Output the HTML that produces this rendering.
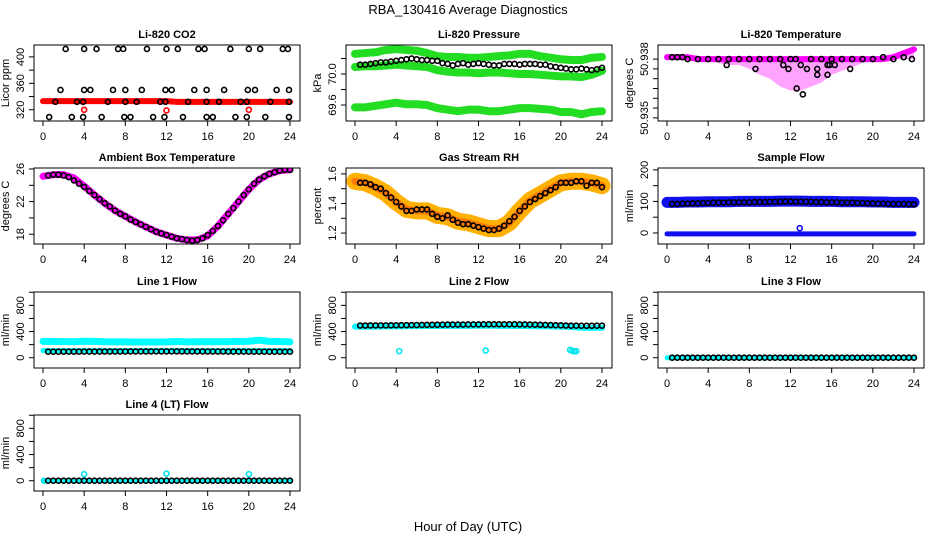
<!DOCTYPE html>
<html><head><meta charset="utf-8">
<style>
html,body{margin:0;padding:0;background:#fff;}
svg{display:block;font-family:"Liberation Sans",sans-serif;}
</style></head>
<body>
<svg id="chart" width="936" height="540" viewBox="0 0 936 540" xmlns="http://www.w3.org/2000/svg">
<text x="468" y="14" font-size="13" text-anchor="middle">RBA_130416  Average Diagnostics</text>
<text x="468" y="531" font-size="13" text-anchor="middle">Hour of Day (UTC)</text>
</svg>
<script>
// ---- shared categories ----
const xTicks = [0,4,8,12,16,20,24];
const bandHours = [0,1,2,3,4,5,6,7,8,9,10,11,12,13,14,15,16,17,18,19,20,21,22,23,24];
const pointHours = [0.5,1,1.5,2,2.5,3,3.5,4,4.5,5,5.5,6,6.5,7,7.5,8,8.5,9,9.5,10,10.5,11,11.5,12,12.5,13,13.5,14,14.5,15,15.5,16,16.5,17,17.5,18,18.5,19,19.5,20,20.5,21,21.5,22,22.5,23,23.5,24];

// ---- CO2 ----
const co2Band = [333,333,333,333,333,333,333,333,333,333,333,333,333,332,332,332,332,332,332,332,332,332,332,332,332];
const co2Hours = [2.2,4,5.2,7.3,7.8,10.1,12,13.1,15.1,15.7,18.2,20,21.1,23.3,23.8, 1.7,4,4.6,6.8,8,9.6,11.9,12.5,14.7,15.9,17.6,19.9,20.6,22.7,23.9, 1.2,3.3,3.9,6.3,8,9.1,11.4,11.9,14.1,15.9,17.1,19.2,19.8,22.1,23.9, 0.6,2.8,3.9,5.7,7.9,8.5,10.7,11.8,13.6,15.9,16.5,18.7,19.8,21.6,23.9];
const co2Values = [412,412,412,412,412,412,412,412,412,412,412,412,412,412,412, 350,350,350,350,350,350,350,350,350,350,350,350,350,350,350, 332,332,332,332,332,332,332,332,332,332,332,332,332,332,332, 309,309,309,309,309,309,309,309,309,309,309,309,309,309,309];
const co2OutHours = [4,12,20];
const co2OutValues = [320,319,320];

// ---- Pressure ----
const presUpper = [70.26,70.27,70.28,70.31,70.32,70.31,70.30,70.27,70.23,70.22,70.22,70.21,70.21,70.22,70.23,70.24,70.26,70.26,70.23,70.21,70.19,70.18,70.18,70.21,70.22];
const presMiddle = [70.09,70.10,70.10,70.11,70.12,70.11,70.10,70.09,70.05,70.03,70.02,70.02,70.01,70.02,70.02,70.01,70.00,70.00,69.99,69.98,69.97,69.97,69.96,69.99,70.04];
const presLower = [69.57,69.57,69.59,69.61,69.63,69.61,69.61,69.60,69.56,69.54,69.52,69.54,69.54,69.52,69.52,69.54,69.56,69.56,69.55,69.54,69.51,69.51,69.48,69.51,69.52];
const presPoints = [70.12,70.12,70.13,70.14,70.15,70.15,70.16,70.17,70.18,70.19,70.20,70.19,70.18,70.18,70.17,70.17,70.14,70.13,70.11,70.13,70.14,70.12,70.13,70.14,70.13,70.12,70.11,70.11,70.13,70.13,70.13,70.12,70.13,70.13,70.13,70.12,70.12,70.10,70.09,70.08,70.07,70.06,70.06,70.07,70.06,70.05,70.06,70.08];

// ---- Li-820 temperature ----
const tempUpper = [50.9381,50.9381,50.9381,50.9380,50.9380,50.9380,50.9380,50.9380,50.9380,50.9380,50.9380,50.9380,50.9380,50.9380,50.9380,50.9380,50.9380,50.9380,50.9380,50.9380,50.9380,50.9380,50.9381,50.9383,50.9385];
const tempLower = [50.9380,50.9380,50.9380,50.9379,50.9379,50.9378,50.9377,50.9377,50.9375,50.9372,50.9370,50.9366,50.9364,50.9364,50.9366,50.9368,50.9372,50.9374,50.9376,50.9378,50.9379,50.9380,50.9380,50.9380,50.9380];
const tempHours = [0.5,1,1.5,2,3,4,5,6,7,8,9,10,11,11.3,12,12.5,13,14,14.6,15,15.6,16,17,18,19,20,21,22,23,23.8,5.8,8.6,11.8,13.6,15.8,16.3,17.8,12.6,13.2,14.6,15.6];
const tempValues = [50.9381,50.9381,50.9381,50.9380,50.9380,50.9380,50.9380,50.9380,50.9380,50.9380,50.9380,50.9380,50.9380,50.9377,50.9380,50.9380,50.9377,50.9380,50.9375,50.9380,50.9377,50.9380,50.9380,50.9380,50.9380,50.9380,50.9381,50.9380,50.9381,50.9380,50.9377,50.9375,50.9375,50.9375,50.9377,50.9377,50.9375,50.9365,50.9362,50.9372,50.9372];

// ---- Ambient box temperature ----
const ambBand = [25.1,25.3,25.3,24.9,23.9,22.8,21.8,20.9,20.2,19.5,18.9,18.3,17.9,17.5,17.3,17.3,17.8,19.0,20.5,22.0,23.5,24.7,25.4,25.8,25.9];
const ambPoints = [25.2,25.3,25.3,25.2,25.0,24.6,24.2,23.8,23.3,22.8,22.3,21.8,21.4,20.9,20.5,20.2,19.8,19.5,19.2,18.9,18.6,18.3,18.1,17.9,17.7,17.5,17.4,17.3,17.2,17.3,17.5,17.9,18.4,19.0,19.7,20.5,21.2,22.0,22.8,23.5,24.2,24.7,25.1,25.4,25.6,25.8,25.9,25.9];

// ---- Gas stream RH ----
const rhBand = [1.55,1.54,1.51,1.47,1.41,1.36,1.35,1.35,1.32,1.31,1.28,1.27,1.25,1.23,1.23,1.27,1.35,1.42,1.46,1.50,1.54,1.55,1.55,1.54,1.52];
const rhPoints = [1.54,1.54,1.53,1.51,1.50,1.47,1.44,1.41,1.38,1.35,1.35,1.36,1.36,1.36,1.33,1.31,1.30,1.32,1.29,1.27,1.26,1.26,1.25,1.24,1.23,1.22,1.22,1.23,1.25,1.28,1.31,1.35,1.38,1.41,1.43,1.45,1.47,1.49,1.51,1.54,1.54,1.54,1.55,1.55,1.52,1.54,1.54,1.51];

// ---- Sample flow ----
const sampleBand = [97,97,98,98,99,99,99,100,100,100,100,101,101,101,100,100,100,99,99,99,98,98,97,97,97];
const sampleLow = [-3,-3,-3,-3,-3,-3,-3,-3,-3,-3,-3,-3,-3,-3,-3,-3,-3,-3,-3,-3,-3,-3,-3,-3,-3];
const samplePoints = [92,92,93,93,94,94,95,95,96,96,96,97,97,97,97,97,98,98,98,99,99,99,100,100,99,99,99,99,98,98,97,97,97,96,96,96,95,95,94,94,93,93,92,92,92,92,91,91];

// ---- Line flows ----
const line1Band = [250,248,245,244,252,250,244,242,242,240,240,240,242,248,242,244,244,244,245,248,252,268,250,245,242];
const line1Low = [108,108,108,108,108,108,108,108,108,108,108,108,108,108,108,108,108,108,108,108,108,108,108,108,108];
const line1Points = [92,92,92,93,93,93,93,94,94,94,94,95,95,95,95,95,96,96,96,96,96,97,97,97,97,97,97,96,96,96,96,95,95,95,95,94,94,94,94,93,93,93,93,92,92,92,92,92];
const line2Band = [475,475,476,478,478,480,482,484,485,486,486,487,488,488,487,486,485,482,480,478,476,470,458,455,458];
const line2Points = [492,492,493,493,494,494,495,496,497,498,499,500,501,502,503,504,505,506,506,507,507,508,508,509,510,510,511,511,511,510,510,509,508,507,505,503,501,499,497,495,492,490,489,488,488,488,489,490];
const line2OutHours = [4.3,12.7,20.9,21.1,21.3,21.5];
const line2OutValues = [100,110,120,105,100,100];
const line3Band = [0,0,0,0,0,0,0,0,0,0,0,0,0,0,0,0,0,0,0,0,0,0,0,0,0];
const line3Points = [0,0,0,0,0,0,0,0,0,0,0,0,0,0,0,0,0,0,0,0,0,0,0,0,0,0,0,0,0,0,0,0,0,0,0,0,0,0,0,0,0,0,0,0,0,0,0,0];
const line4Points = [0,0,0,0,0,0,0,0,0,0,0,0,0,0,0,0,0,0,0,0,0,0,0,0,0,0,0,0,0,0,0,0,0,0,0,0,0,0,0,0,0,0,0,0,0,0,0,0];
const line4OutHours = [0.1,4,12,20];
const line4OutValues = [0,100,110,100];

const NS = "http://www.w3.org/2000/svg";
const svg = document.getElementById('chart');
function mk(tag, attrs, parent){
  const e = document.createElementNS(NS, tag);
  for (const k in attrs) e.setAttribute(k, attrs[k]);
  (parent||svg).appendChild(e);
  return e;
}
const colX = [34, 346, 658];
const rowY = [45, 168, 292, 415];
const PW = 266, PH = 76;

function makePanel(col, row, cfg){
  const bx = colX[col], by = rowY[row];
  const g = mk('g', {});
  
  
  const xs = h => bx + 9 + h / 24 * 247;
  const ys = v => by + PH - (v - cfg.ymin) / (cfg.ymax - cfg.ymin) * PH;
  const clip = 'clip-' + cfg.name;
  const cp = mk('clipPath', {id: clip}, g);
  mk('rect', {x: bx, y: by, width: PW, height: PH}, cp);
  const data = mk('g', {'clip-path': 'url(#' + clip + ')'}, g);
  
  
  cfg.draw(data, xs, ys);
  const box = mk('rect', {x: bx, y: by, width: PW, height: PH, fill: 'none', stroke: '#000', 'stroke-width': 1}, g);
  
  
  const xa = mk('g', {}, g);
  
  
  mk('line', {x1: xs(0), x2: xs(24), y1: by + PH, y2: by + PH, stroke: '#000'}, xa);
  xTicks.forEach(t => {
    mk('line', {x1: xs(t), x2: xs(t), y1: by + PH, y2: by + PH + 5, stroke: '#000'}, xa);
    const tx = mk('text', {x: xs(t), y: by + PH + 19, 'font-size': 11, 'text-anchor': 'middle'}, xa);
    tx.textContent = t;
  });
  const ya = mk('g', {}, g);
  
  
  const t0 = cfg.yTicks[0], t1 = cfg.yTicks[cfg.yTicks.length - 1];
  mk('line', {x1: bx, x2: bx, y1: ys(t0), y2: ys(t1), stroke: '#000'}, ya);
  cfg.yTicks.forEach(t => mk('line', {x1: bx - 5, x2: bx, y1: ys(t), y2: ys(t), stroke: '#000'}, ya));
  cfg.yLabels.forEach(t => {
    const lx = bx - 10, ly = ys(parseFloat(t));
    const tx = mk('text', {x: lx, y: ly, 'font-size': 11, 'text-anchor': 'middle', transform: 'rotate(-90 ' + lx + ' ' + ly + ')'}, ya);
    tx.textContent = t;
  });
  const yl = bx - 25, yc = by + PH / 2;
  const yt = mk('text', {x: yl, y: yc, 'font-size': 11, 'text-anchor': 'middle', transform: 'rotate(-90 ' + yl + ' ' + yc + ')'}, g);
  
  
  yt.textContent = cfg.ylab;
  const tt = mk('text', {x: bx + PW / 2, y: by - 7, 'font-size': 11, 'font-weight': 'bold', 'text-anchor': 'middle'}, g);
  
  
  tt.textContent = cfg.title;
}

function band(parent, xs, ys, hours, vals, color, width){
  const pts = hours.map((h, i) => xs(h) + ',' + ys(vals[i])).join(' ');
  const p = mk('polyline', {points: pts, fill: 'none', stroke: color, 'stroke-width': width, 'stroke-linecap': 'round', 'stroke-linejoin': 'round'}, parent);
  
  
  return p;
}
function pts(parent, xs, ys, hours, vals, color, r){
  const n = Math.min(hours.length, vals.length);
  for (let i = 0; i < n; i++){
    const c = mk('circle', {cx: xs(hours[i]), cy: ys(vals[i]), r: r || 2.5, fill: 'none', stroke: color, 'stroke-width': 1.6}, parent);
    
    
  }
}

makePanel(0, 0, {name: 'co2-panel', title: 'Li-820 CO2', ylab: 'Licor ppm', ymin: 303, ymax: 418,
  yTicks: [320,340,360,380,400], yLabels: ['320','360','400'],
  draw: (g, xs, ys) => {
    band(g, xs, ys, bandHours, co2Band, '#ff0000', 6);
    pts(g, xs, ys, co2OutHours, co2OutValues, '#ff0000');
    pts(g, xs, ys, co2Hours, co2Values, '#000');
  }});
makePanel(1, 0, {name: 'pressure-panel', title: 'Li-820 Pressure', ylab: 'kPa', ymin: 69.394, ymax: 70.374,
  yTicks: [69.6,69.8,70.0,70.2], yLabels: ['69.6','70.0'],
  draw: (g, xs, ys) => {
    band(g, xs, ys, bandHours, presUpper, '#22dd22', 8);
    band(g, xs, ys, bandHours, presMiddle, '#22dd22', 8);
    band(g, xs, ys, bandHours, presLower, '#22dd22', 8);
    pts(g, xs, ys, pointHours, presPoints, '#000');
  }});
makePanel(2, 0, {name: 'li820-temperature-panel', title: 'Li-820 Temperature', ylab: 'degrees C', ymin: 50.93484, ymax: 50.93872,
  yTicks: [50.935,50.9355,50.936,50.9365,50.937,50.9375,50.938], yLabels: ['50.935','50.938'],
  draw: (g, xs, ys) => {
    const poly = bandHours.map((h, i) => xs(h) + ',' + ys(tempUpper[i])).concat(bandHours.slice().reverse().map((h, j) => xs(h) + ',' + ys(tempLower[bandHours.length - 1 - j]))).join(' ');
    const p = mk('polygon', {points: poly, fill: '#ff33ff', 'fill-opacity': 0.45, stroke: 'none'}, g);
    
    
    band(g, xs, ys, bandHours, tempUpper, '#ff00ff', 6);
    pts(g, xs, ys, tempHours, tempValues, '#000');
  }});
makePanel(0, 1, {name: 'ambient-temperature-panel', title: 'Ambient Box Temperature', ylab: 'degrees C', ymin: 16.8, ymax: 26.12,
  yTicks: [18,20,22,24,26], yLabels: ['18','22','26'],
  draw: (g, xs, ys) => {
    band(g, xs, ys, bandHours, ambBand, '#ff00ff', 7);
    pts(g, xs, ys, pointHours, ambPoints, '#000');
  }});
makePanel(1, 1, {name: 'gas-rh-panel', title: 'Gas Stream RH', ylab: 'percent', ymin: 1.126, ymax: 1.64,
  yTicks: [1.2,1.3,1.4,1.5,1.6], yLabels: ['1.2','1.4','1.6'],
  draw: (g, xs, ys) => {
    band(g, xs, ys, bandHours, rhBand, '#ffb000', 17);
    band(g, xs, ys, bandHours, rhBand, '#ff7a00', 7);
    pts(g, xs, ys, pointHours, rhPoints, '#000');
  }});
makePanel(2, 1, {name: 'sample-flow-panel', title: 'Sample Flow', ylab: 'ml/min', ymin: -35, ymax: 206,
  yTicks: [0,50,100,150,200], yLabels: ['0','100','200'],
  draw: (g, xs, ys) => {
    band(g, xs, ys, bandHours, sampleBand, '#1010ee', 11);
    band(g, xs, ys, bandHours, sampleLow, '#1010ee', 5);
    pts(g, xs, ys, [12.9], [15], '#1010ee');
    pts(g, xs, ys, pointHours, samplePoints, '#000');
  }});
const flowTicks = [0,200,400,600,800,1000];
const flowLabels = ['0','400','800'];
makePanel(0, 2, {name: 'line1-flow-panel', title: 'Line 1 Flow', ylab: 'ml/min', ymin: -157, ymax: 1004,
  yTicks: flowTicks, yLabels: flowLabels,
  draw: (g, xs, ys) => {
    band(g, xs, ys, bandHours, line1Band, '#00ffff', 7);
    band(g, xs, ys, bandHours, line1Low, '#00ffff', 5);
    pts(g, xs, ys, pointHours, line1Points, '#000');
  }});
makePanel(1, 2, {name: 'line2-flow-panel', title: 'Line 2 Flow', ylab: 'ml/min', ymin: -157, ymax: 1004,
  yTicks: flowTicks, yLabels: flowLabels,
  draw: (g, xs, ys) => {
    band(g, xs, ys, bandHours, line2Band, '#00ffff', 6);
    pts(g, xs, ys, line2OutHours, line2OutValues, '#00e5ee');
    pts(g, xs, ys, pointHours, line2Points, '#000');
  }});
makePanel(2, 2, {name: 'line3-flow-panel', title: 'Line 3 Flow', ylab: 'ml/min', ymin: -157, ymax: 1004,
  yTicks: flowTicks, yLabels: flowLabels,
  draw: (g, xs, ys) => {
    band(g, xs, ys, bandHours, line3Band, '#00ffff', 5);
    pts(g, xs, ys, pointHours, line3Points, '#000');
  }});
makePanel(0, 3, {name: 'line4-flow-panel', title: 'Line 4 (LT) Flow', ylab: 'ml/min', ymin: -157, ymax: 1004,
  yTicks: flowTicks, yLabels: flowLabels,
  draw: (g, xs, ys) => {
    band(g, xs, ys, bandHours, line3Band, '#00ffff', 4);
    pts(g, xs, ys, line4OutHours, line4OutValues, '#00e5ee');
    pts(g, xs, ys, pointHours, line4Points, '#000');
  }});
</script>
</body></html>
